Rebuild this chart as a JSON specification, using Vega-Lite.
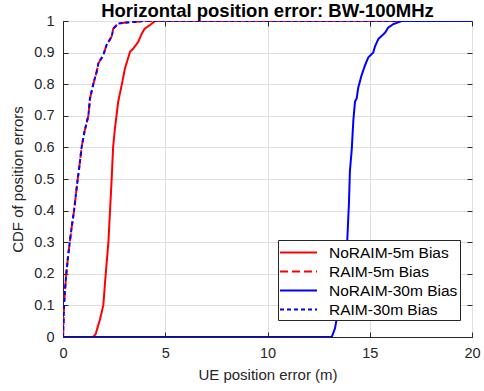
{
  "$schema": "https://vega.github.io/schema/vega-lite/v6.json",
  "width": 409,
  "height": 316,
  "autosize": {"type": "none"},
  "padding": {"left": 63, "top": 21, "right": 12, "bottom": 54},
  "background": "white",
  "title": {"text": "Horizontal position error: BW-100MHz", "fontSize": 18.5, "font": "Liberation Sans", "fontWeight": "bold", "color": "#000000", "anchor": "middle", "frame": "group", "offset": 4, "baseline": "alphabetic", "dy": 26},
  "config": {
    "view": {"stroke": "#262626", "strokeWidth": 1},
    "axis": {"font": "Liberation Sans", "labelFont": "Liberation Sans", "titleFont": "Liberation Sans", "labelFontSize": 14.5, "titleFontSize": 15, "labelColor": "#262626", "titleColor": "#262626", "domainColor": "#262626", "tickColor": "#262626", "gridColor": "#dfdfdf", "gridOpacity": 1, "titleFontWeight": "normal", "tickSize": -5},
    "legend": {"labelFont": "Liberation Sans"}
  },
  "data": {"values": [
    {"series": "NoRAIM-5m Bias", "x": 0, "y": 0},
    {"series": "NoRAIM-5m Bias", "x": 1.48, "y": 0},
    {"series": "NoRAIM-5m Bias", "x": 1.6, "y": 0.01},
    {"series": "NoRAIM-5m Bias", "x": 1.81, "y": 0.056},
    {"series": "NoRAIM-5m Bias", "x": 1.97, "y": 0.1},
    {"series": "NoRAIM-5m Bias", "x": 2.09, "y": 0.2},
    {"series": "NoRAIM-5m Bias", "x": 2.22, "y": 0.3},
    {"series": "NoRAIM-5m Bias", "x": 2.3, "y": 0.4},
    {"series": "NoRAIM-5m Bias", "x": 2.38, "y": 0.5},
    {"series": "NoRAIM-5m Bias", "x": 2.45, "y": 0.6},
    {"series": "NoRAIM-5m Bias", "x": 2.54, "y": 0.66},
    {"series": "NoRAIM-5m Bias", "x": 2.7, "y": 0.745},
    {"series": "NoRAIM-5m Bias", "x": 2.87, "y": 0.797},
    {"series": "NoRAIM-5m Bias", "x": 3.03, "y": 0.85},
    {"series": "NoRAIM-5m Bias", "x": 3.28, "y": 0.903},
    {"series": "NoRAIM-5m Bias", "x": 3.44, "y": 0.913},
    {"series": "NoRAIM-5m Bias", "x": 3.68, "y": 0.934},
    {"series": "NoRAIM-5m Bias", "x": 3.85, "y": 0.96},
    {"series": "NoRAIM-5m Bias", "x": 4.0, "y": 0.976},
    {"series": "NoRAIM-5m Bias", "x": 4.25, "y": 0.987},
    {"series": "NoRAIM-5m Bias", "x": 4.5, "y": 1.0},
    {"series": "NoRAIM-5m Bias", "x": 20, "y": 1.0},
    {"series": "RAIM-5m Bias", "x": 0, "y": 0},
    {"series": "RAIM-5m Bias", "x": 0.02, "y": 0.03},
    {"series": "RAIM-5m Bias", "x": 0.05, "y": 0.1},
    {"series": "RAIM-5m Bias", "x": 0.1, "y": 0.15},
    {"series": "RAIM-5m Bias", "x": 0.16, "y": 0.2},
    {"series": "RAIM-5m Bias", "x": 0.24, "y": 0.25},
    {"series": "RAIM-5m Bias", "x": 0.33, "y": 0.3},
    {"series": "RAIM-5m Bias", "x": 0.43, "y": 0.35},
    {"series": "RAIM-5m Bias", "x": 0.54, "y": 0.4},
    {"series": "RAIM-5m Bias", "x": 0.63, "y": 0.45},
    {"series": "RAIM-5m Bias", "x": 0.72, "y": 0.5},
    {"series": "RAIM-5m Bias", "x": 0.82, "y": 0.55},
    {"series": "RAIM-5m Bias", "x": 0.91, "y": 0.6},
    {"series": "RAIM-5m Bias", "x": 1.05, "y": 0.65},
    {"series": "RAIM-5m Bias", "x": 1.24, "y": 0.7},
    {"series": "RAIM-5m Bias", "x": 1.32, "y": 0.755},
    {"series": "RAIM-5m Bias", "x": 1.48, "y": 0.8},
    {"series": "RAIM-5m Bias", "x": 1.65, "y": 0.84},
    {"series": "RAIM-5m Bias", "x": 1.73, "y": 0.866},
    {"series": "RAIM-5m Bias", "x": 1.97, "y": 0.892},
    {"series": "RAIM-5m Bias", "x": 2.13, "y": 0.924},
    {"series": "RAIM-5m Bias", "x": 2.38, "y": 0.951},
    {"series": "RAIM-5m Bias", "x": 2.46, "y": 0.976},
    {"series": "RAIM-5m Bias", "x": 2.7, "y": 0.992},
    {"series": "RAIM-5m Bias", "x": 3.1, "y": 0.995},
    {"series": "RAIM-5m Bias", "x": 4.0, "y": 1.0},
    {"series": "RAIM-5m Bias", "x": 20, "y": 1.0},
    {"series": "NoRAIM-30m Bias", "x": 0, "y": 0},
    {"series": "NoRAIM-30m Bias", "x": 13.14, "y": 0},
    {"series": "NoRAIM-30m Bias", "x": 13.3, "y": 0.027},
    {"series": "NoRAIM-30m Bias", "x": 13.5, "y": 0.1},
    {"series": "NoRAIM-30m Bias", "x": 13.7, "y": 0.2},
    {"series": "NoRAIM-30m Bias", "x": 13.9, "y": 0.306},
    {"series": "NoRAIM-30m Bias", "x": 13.98, "y": 0.42},
    {"series": "NoRAIM-30m Bias", "x": 14.03, "y": 0.525},
    {"series": "NoRAIM-30m Bias", "x": 14.12, "y": 0.594},
    {"series": "NoRAIM-30m Bias", "x": 14.2, "y": 0.6875},
    {"series": "NoRAIM-30m Bias", "x": 14.28, "y": 0.745},
    {"series": "NoRAIM-30m Bias", "x": 14.36, "y": 0.755},
    {"series": "NoRAIM-30m Bias", "x": 14.44, "y": 0.79},
    {"series": "NoRAIM-30m Bias", "x": 14.6, "y": 0.828},
    {"series": "NoRAIM-30m Bias", "x": 14.77, "y": 0.86},
    {"series": "NoRAIM-30m Bias", "x": 14.93, "y": 0.885},
    {"series": "NoRAIM-30m Bias", "x": 15.17, "y": 0.9},
    {"series": "NoRAIM-30m Bias", "x": 15.26, "y": 0.92},
    {"series": "NoRAIM-30m Bias", "x": 15.42, "y": 0.943},
    {"series": "NoRAIM-30m Bias", "x": 15.75, "y": 0.963},
    {"series": "NoRAIM-30m Bias", "x": 15.9, "y": 0.979},
    {"series": "NoRAIM-30m Bias", "x": 16.15, "y": 0.99},
    {"series": "NoRAIM-30m Bias", "x": 16.56, "y": 1.0},
    {"series": "NoRAIM-30m Bias", "x": 20, "y": 1.0},
    {"series": "RAIM-30m Bias", "x": 0, "y": 0},
    {"series": "RAIM-30m Bias", "x": 0.02, "y": 0.03},
    {"series": "RAIM-30m Bias", "x": 0.05, "y": 0.1},
    {"series": "RAIM-30m Bias", "x": 0.1, "y": 0.15},
    {"series": "RAIM-30m Bias", "x": 0.16, "y": 0.2},
    {"series": "RAIM-30m Bias", "x": 0.24, "y": 0.25},
    {"series": "RAIM-30m Bias", "x": 0.33, "y": 0.3},
    {"series": "RAIM-30m Bias", "x": 0.43, "y": 0.35},
    {"series": "RAIM-30m Bias", "x": 0.54, "y": 0.4},
    {"series": "RAIM-30m Bias", "x": 0.63, "y": 0.45},
    {"series": "RAIM-30m Bias", "x": 0.72, "y": 0.5},
    {"series": "RAIM-30m Bias", "x": 0.82, "y": 0.55},
    {"series": "RAIM-30m Bias", "x": 0.91, "y": 0.6},
    {"series": "RAIM-30m Bias", "x": 1.05, "y": 0.65},
    {"series": "RAIM-30m Bias", "x": 1.24, "y": 0.7},
    {"series": "RAIM-30m Bias", "x": 1.32, "y": 0.755},
    {"series": "RAIM-30m Bias", "x": 1.48, "y": 0.8},
    {"series": "RAIM-30m Bias", "x": 1.65, "y": 0.84},
    {"series": "RAIM-30m Bias", "x": 1.73, "y": 0.866},
    {"series": "RAIM-30m Bias", "x": 1.97, "y": 0.892},
    {"series": "RAIM-30m Bias", "x": 2.13, "y": 0.924},
    {"series": "RAIM-30m Bias", "x": 2.38, "y": 0.951},
    {"series": "RAIM-30m Bias", "x": 2.46, "y": 0.976},
    {"series": "RAIM-30m Bias", "x": 2.7, "y": 0.992},
    {"series": "RAIM-30m Bias", "x": 3.1, "y": 0.995},
    {"series": "RAIM-30m Bias", "x": 4.0, "y": 1.0},
    {"series": "RAIM-30m Bias", "x": 20, "y": 1.0}
  ]},
  "layer": [
    {
      "mark": {"type": "line", "clip": true, "strokeCap": "butt"},
      "encoding": {
        "x": {"field": "x", "type": "quantitative", "scale": {"domain": [0, 20], "nice": false, "zero": false}, "axis": {"values": [0, 5, 10, 15, 20], "title": "UE position error (m)", "labelPadding": 14, "titlePadding": 8, "grid": true, "labelFlush": false}},
        "y": {"field": "y", "type": "quantitative", "scale": {"domain": [0, 1], "nice": false}, "axis": {"values": [0, 0.1, 0.2, 0.3, 0.4, 0.5, 0.6, 0.7, 0.8, 0.9, 1], "format": "~g", "title": "CDF of position errors", "labelPadding": 14, "titlePadding": 8, "grid": true, "labelFlush": false}},
        "color": {"field": "series", "type": "nominal", "scale": {"domain": ["NoRAIM-5m Bias", "RAIM-5m Bias", "NoRAIM-30m Bias", "RAIM-30m Bias"], "range": ["#ff0000", "#ff0000", "#0000ff", "#0000ff"]},
          "legend": {"title": null, "orient": "none", "legendX": 215, "legendY": 219, "symbolType": "M-1.947,0H1.947", "symbolSize": 361, "symbolOffset": 8, "labelOffset": 20, "labelFontSize": 15.5, "labelColor": "#000000", "strokeColor": "#262626", "fillColor": "#ffffff", "padding": 2, "rowPadding": 0}},
        "strokeDash": {"field": "series", "type": "nominal", "scale": {"domain": ["NoRAIM-5m Bias", "RAIM-5m Bias", "NoRAIM-30m Bias", "RAIM-30m Bias"], "range": [[1, 0], [8, 4], [1, 0], [4, 3]]}, "legend": {"title": null}},
        "strokeWidth": {"field": "series", "type": "nominal", "scale": {"domain": ["NoRAIM-5m Bias", "RAIM-5m Bias", "NoRAIM-30m Bias", "RAIM-30m Bias"], "range": [2, 2, 2, 1]}, "legend": {"title": null}},
        "order": {"field": "x", "type": "quantitative"}
      }
    },
    {
      "mark": {"type": "line", "opacity": 0},
      "encoding": {
        "x": {"field": "x", "type": "quantitative", "axis": {"orient": "top", "values": [0, 5, 10, 15, 20], "labels": false, "title": null, "grid": false, "domain": false, "minExtent": 0, "maxExtent": 0, "labelPadding": 0}},
        "y": {"field": "y", "type": "quantitative", "axis": {"orient": "right", "values": [0, 0.1, 0.2, 0.3, 0.4, 0.5, 0.6, 0.7, 0.8, 0.9, 1], "labels": false, "title": null, "grid": false, "domain": false, "minExtent": 0, "maxExtent": 0, "labelPadding": 0}},
        "detail": {"field": "series", "type": "nominal"}
      }
    }
  ],
  "resolve": {"axis": {"x": "independent", "y": "independent"}}
}
